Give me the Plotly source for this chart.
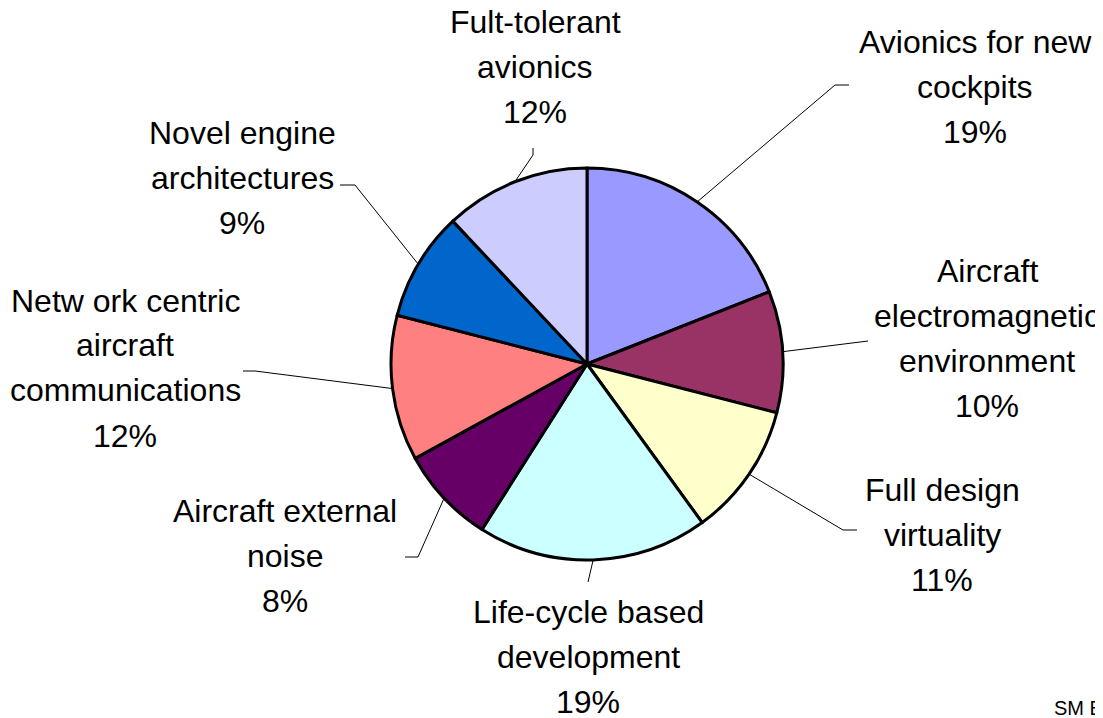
import math
import plotly.graph_objects as go

# slices, clockwise from 12 o'clock
labels = [
    "Avionics for new<br>cockpits",
    "Aircraft<br>electromagnetic<br>environment",
    "Full design<br>virtuality",
    "Life-cycle based<br>development",
    "Aircraft external<br>noise",
    "Netw ork centric<br>aircraft<br>communications",
    "Novel engine<br>architectures",
    "Fult-tolerant<br>avionics",
]
values = [19, 10, 11, 19, 8, 12, 9, 12]
colors = ["#9999FF", "#993366", "#FFFFCC", "#CCFFFF",
          "#660066", "#FF8080", "#0066CC", "#CCCCFF"]

# page body has an 8px margin, so the figure is drawn offset by that
OFF = 8
W, H = 1103 - OFF, 718 - OFF
CX, CY, R = 587, 364, 196          # window pixels

# label block centres and leader elbows (window pixels)
label_pos = [(975, 87), (987, 338), (942, 535), (588, 657),
             (285, 556), (125, 368), (242, 178), (535, 67)]
elbow = [[(835, 85), (849, 85)], [(868, 341)], [(843, 530), (857, 530)],
         [(588, 582)], [(418, 557), (405, 557)], [(255, 371), (243, 371)],
         [(355, 185), (340, 185)], [(533, 155), (533, 148)]]

FONT = "Liberation Sans, Arial, sans-serif"
LINE_H = 45


def px(x, y):
    return (x - OFF) / W, 1 - (y - OFF) / H


fig = go.Figure(
    go.Pie(
        labels=labels,
        values=values,
        sort=False,
        direction="clockwise",
        rotation=0,
        marker=dict(colors=colors, line=dict(color="black", width=3)),
        textinfo="none",
        hoverinfo="percent",
        showlegend=False,
        domain=dict(x=[px(CX - R, 0)[0], px(CX + R, 0)[0]],
                    y=[px(0, CY + R)[1], px(0, CY - R)[1]]),
    )
)

total = sum(values)
cum = 0
shapes = []
annotations = []
for lab, v, pos, pts in zip(labels, values, label_pos, elbow):
    mid = (cum + v / 2) / total * 2 * math.pi
    cum += v
    path = [(CX + R * math.sin(mid), CY - R * math.cos(mid))] + pts
    for (x0, y0), (x1, y1) in zip(path[:-1], path[1:]):
        a0, b0 = px(x0, y0)
        a1, b1 = px(x1, y1)
        shapes.append(dict(type="line", xref="paper", yref="paper",
                           x0=a0, y0=b0, x1=a1, y1=b1,
                           line=dict(color="black", width=1)))
    lines = lab.split("<br>") + [f"{round(v / total * 100)}%"]
    top = pos[1] - LINE_H * (len(lines) - 1) / 2
    for i, line in enumerate(lines):
        ax, ay = px(pos[0], top + i * LINE_H)
        annotations.append(dict(
            text=line, x=ax, y=ay, xref="paper", yref="paper",
            xanchor="center", yanchor="middle", showarrow=False,
            font=dict(family=FONT, size=32, color="black"),
        ))

# footer mark, cut by the right edge as in the source
sx, sy = px(1052, 708)
annotations.append(dict(
    text="SM E", x=sx, y=sy, xref="paper", yref="paper",
    xanchor="left", yanchor="middle", showarrow=False,
    font=dict(family=FONT, size=20, color="black"),
))

fig.update_layout(
    width=W,
    height=H,
    margin=dict(l=0, r=0, t=0, b=0),
    paper_bgcolor="white",
    plot_bgcolor="white",
    shapes=shapes,
    annotations=annotations,
)

fig.write_html("out.html")
